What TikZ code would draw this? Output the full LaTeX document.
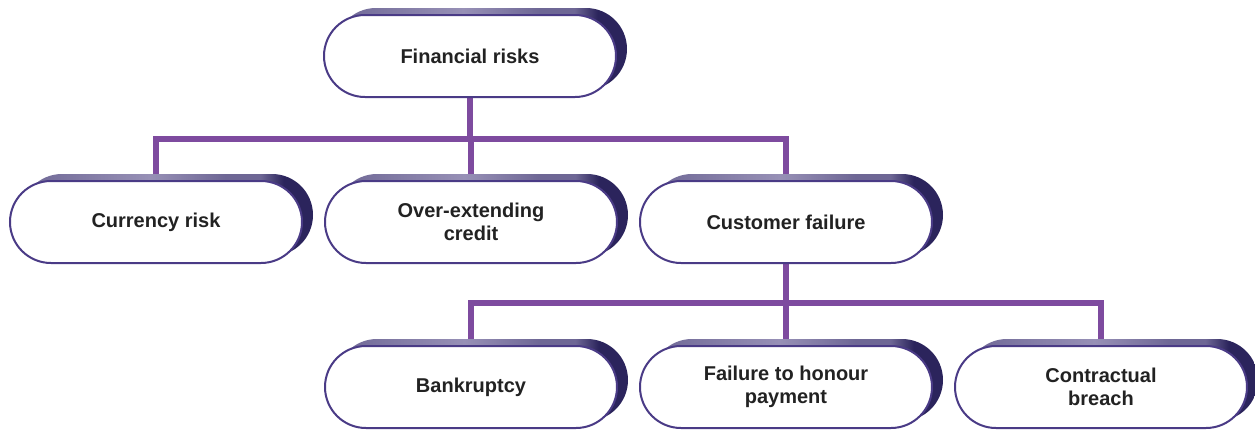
\documentclass[tikz,border=0pt]{standalone}
\usepackage{fontspec}
\setmainfont{Liberation Sans}
\usetikzlibrary{shadows,backgrounds}

\definecolor{linkpurple}{HTML}{7E4B9F}
\definecolor{boxline}{HTML}{4A3B86}
\definecolor{shadetop}{HTML}{6E6795}
\definecolor{shadelight}{HTML}{9790B6}
\definecolor{shadecap}{HTML}{2B245C}
\definecolor{textgrey}{HTML}{222222}

\pgfdeclarehorizontalshading{capshade}{100bp}{%
  color(0bp)=(shadetop); color(25bp)=(shadetop); color(47bp)=(shadelight);
  color(60bp)=(shadetop); color(66bp)=(shadetop); color(70bp)=(shadecap);
  color(100bp)=(shadecap)}

\tikzset{
  riskbox/.style={draw=boxline, line width=1pt, fill=white,
    rounded corners=20.5pt, minimum width=146pt, minimum height=41pt,
    align=center, text=textgrey, font=\bfseries\fontsize{10}{11.5}\selectfont,
    general shadow={shadow xshift=5.5pt, shadow yshift=3.5pt,
      shading=capshade, draw=none}},
  link/.style={draw=linkpurple, line width=3pt}
}

\begin{document}
\begin{tikzpicture}[x=0.5pt, y=-0.5pt]

    \useasboundingbox (0,0) rectangle (1255,430);

    % Top level
    \node[riskbox] (fin) at (470,56) {Financial risks};

    % Second level
    \node[riskbox] (cur) at (156,222) {Currency risk};
    \node[riskbox] (ove) at (471,222) {Over-extending\\credit};
    \node[riskbox] (cus) at (786,222) {Customer failure};

    % Third level
    \node[riskbox] (ban) at (471,387) {Bankruptcy};
    \node[riskbox] (fai) at (786,387) {Failure to honour\\payment};
    \node[riskbox] (con) at (1101,387) {Contractual\\breach};

    % Branch points
    \coordinate (busA) at (471,139);
    \coordinate (busB) at (786,303);

    % Connectors
    \begin{scope}[on background layer]
        \draw[link] (fin.south) -- (fin.south |- busA);
        \draw[link] (cur.north) |- (busA) -| (cus.north);
        \draw[link] (ove.north) -- (ove.north |- busA);

        \draw[link] (cus.south) -- (busB);
        \draw[link] (ban.north) |- (busB) -| (con.north);
        \draw[link] (fai.north) -- (busB);
    \end{scope}

\end{tikzpicture}
\end{document}
